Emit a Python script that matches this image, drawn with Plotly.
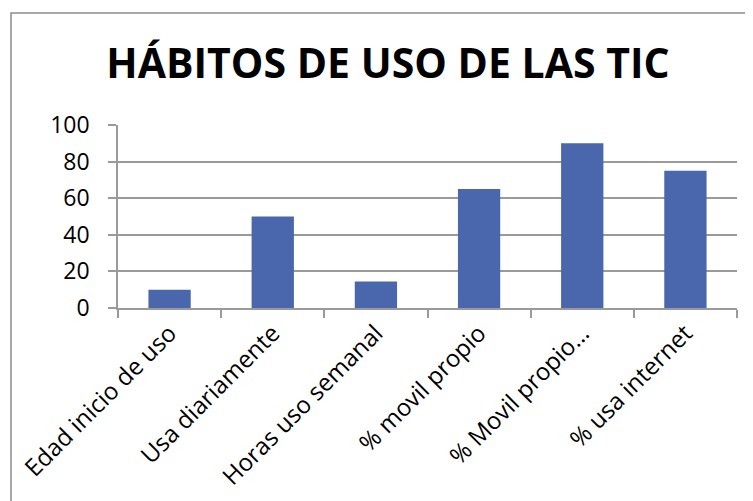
import plotly.graph_objects as go

categories = ["Edad inicio de uso", "Usa diariamente", "Horas uso semanal",
              "% movil propio", "% Movil propio…", "% usa internet"]
values = [10, 50, 14.5, 65, 90, 75]
title_text = "HÁBITOS DE USO DE LAS TIC"

OFF = 8  # page body margin
W, H = 753 - OFF, 501 - OFF
L, R, T, B = 118 - OFF, 16, 125 - OFF, 193
pw, ph = W - L - R, H - T - B

fig = go.Figure(go.Bar(x=categories, y=values, marker=dict(color="#4a66ac",
                line=dict(color="#4a66ac", width=0)), width=0.41))

fig.update_layout(
    width=W, height=H, margin=dict(l=L, r=R, t=T, b=B, autoexpand=False),
    paper_bgcolor="white", plot_bgcolor="white",
    font=dict(family="Open Sans", color="black"),
    title=dict(text="<b>" + title_text + "</b>", x=(388 - OFF - L) / pw, xref="paper",
               xanchor="center", y=1 - (64 - OFF) / H, yanchor="middle",
               font=dict(size=41, family="Open Sans", color="black")),
    showlegend=False,
    xaxis=dict(showline=True, linecolor="#9a9a9a", linewidth=1.5,
               ticks="outside", tickson="boundaries", ticklen=8, tickcolor="#9a9a9a",
               tickwidth=1.5, tickangle=-45, tickfont=dict(size=24),
               ticklabelstandoff=0,
               showgrid=False, automargin=False),
    yaxis=dict(range=[0, 100], dtick=20, showline=True, linecolor="#9a9a9a", linewidth=1.5,
               ticks="outside", ticklen=8, tickcolor="#9a9a9a", tickwidth=1.5,
               showgrid=True, gridcolor="#9a9a9a", gridwidth=1.5,
               ticklabelstandoff=14,
               tickfont=dict(size=23), zeroline=False, automargin=False),
    shapes=[dict(type="rect", xref="paper", yref="paper",
                 x0=(11 - OFF - L) / pw, x1=(W + 5 - L) / pw,
                 y0=-(H + 5 - (T + ph)) / ph, y1=(T + ph - (13 - OFF)) / ph,
                 line=dict(color="#8c8c8c", width=1.5), layer="below")],
)

fig.write_html("out.html")
